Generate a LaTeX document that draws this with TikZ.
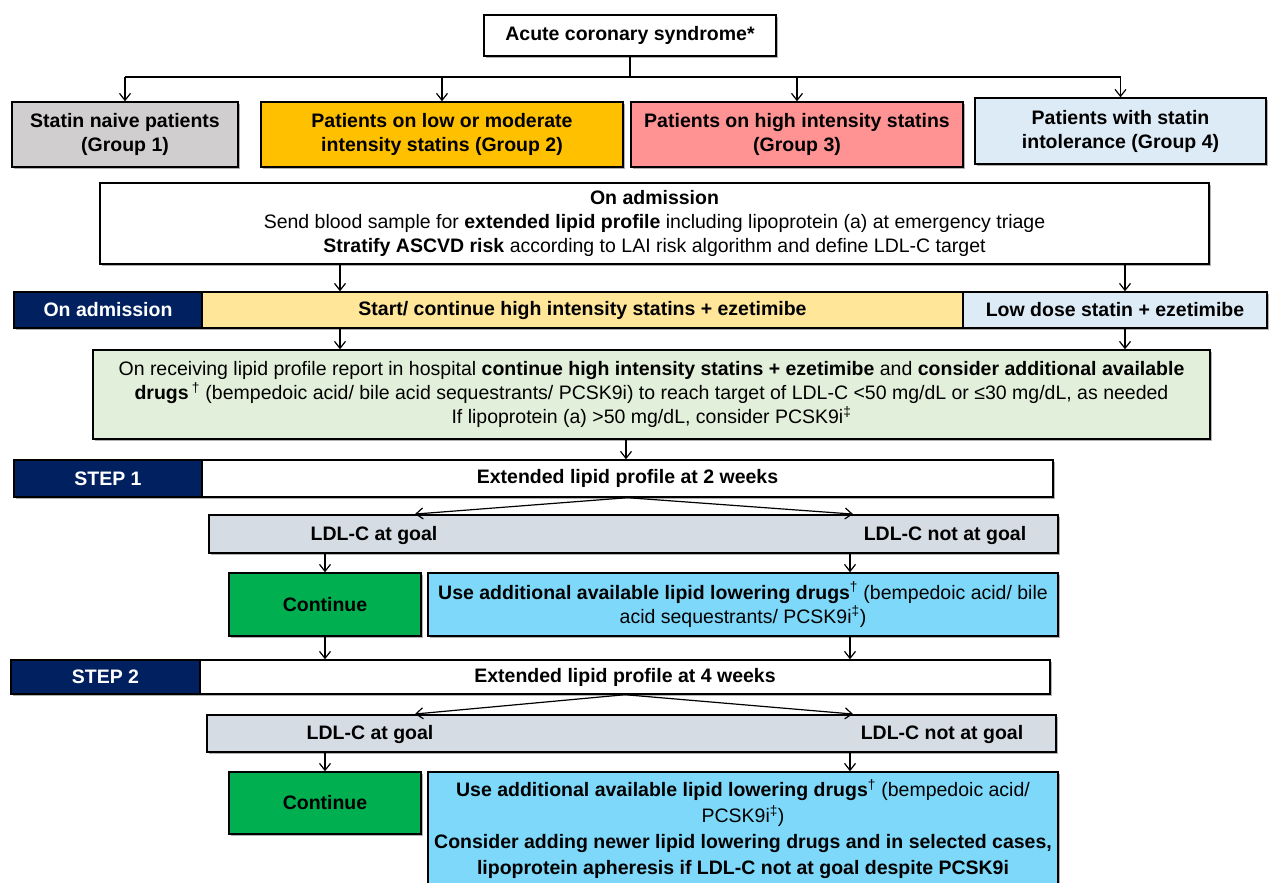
\documentclass[tikz,border=0pt]{standalone}
\usepackage{fontspec}
\setmainfont{Liberation Sans}
\usetikzlibrary{arrows.meta,shadows,calc}
\definecolor{gA}{HTML}{D0CECE}
\definecolor{gB}{HTML}{FFC000}
\definecolor{gC}{HTML}{FF9393}
\definecolor{gD}{HTML}{DDEBF7}
\definecolor{navy}{HTML}{002060}
\definecolor{yel}{HTML}{FFE699}
\definecolor{lgreen}{HTML}{E2EFDA}
\definecolor{lgrey}{HTML}{D6DCE4}
\definecolor{dgreen}{HTML}{00B050}
\definecolor{sky}{HTML}{7DD8FA}
\newcommand{\fs}{\fontsize{19.5}{24}\selectfont}
\begin{document}
\begin{tikzpicture}[x=1pt,y=-1pt,
  box/.style={draw=black, line width=1.4pt, align=center, inner sep=0pt,
    font=\fs,
    drop shadow={shadow xshift=2pt, shadow yshift=-2pt, opacity=.3, fill=black}},
  boldbox/.style={box, font=\fs\bfseries},
  navybox/.style={box, fill=navy, text=white, font=\fs\bfseries},
  lbl/.style={inner sep=0pt, font=\fs\bfseries},
  arr/.style={-{Straight Barb[length=7pt,width=11pt]}, line width=1.2pt},
  ln/.style={line width=1.2pt}]
\useasboundingbox (0,0) rectangle (1269,883);
% coordinates for connector columns
\coordinate (bus) at (626,77);
\coordinate (colL) at (340,0);
\coordinate (colR) at (1125,0);
\coordinate (colM) at (626,0);
\coordinate (colA) at (412,0);
\coordinate (colB) at (856,0);
\coordinate (colC) at (325,0);
\coordinate (colN) at (850,0);
% top
\node[boldbox, fill=white, minimum width=292pt, minimum height=41pt] (acs) at (630,35.5) {Acute coronary syndrome*};
\node[boldbox, fill=gA, minimum width=226pt, minimum height=65pt] (g1) at (125,134.5) {Statin naive patients\\(Group 1)};
\node[boldbox, fill=gB, minimum width=362pt, minimum height=65pt] (g2) at (442,134.5) {Patients on low or moderate\\intensity statins (Group 2)};
\node[boldbox, fill=gC, minimum width=332pt, minimum height=65pt] (g3) at (797,134.5) {Patients on high intensity statins\\(Group 3)};
\node[boldbox, fill=gD, minimum width=291pt, minimum height=66pt] (g4) at (1120.5,131) {Patients with statin\\intolerance (Group 4)};
% admission
\node[box, fill=white, minimum width=1109pt, minimum height=81pt] (adm) at (654.5,223.5) {\textbf{On admission}\\Send blood sample for \textbf{extended lipid profile} including lipoprotein (a) at emergency triage\\\textbf{Stratify ASCVD risk} according to LAI risk algorithm and define LDL-C target};
% row
\node[navybox, minimum width=188pt, minimum height=36pt] (nav0) at (108,310) {On admission};
\node[boldbox, fill=yel, minimum width=761pt, minimum height=36pt] (yel) at (582.5,310) {Start/ continue high intensity statins + ezetimibe};
\node[boldbox, fill=gD, minimum width=304pt, minimum height=36pt] (lb) at (1115,310) {Low dose statin + ezetimibe};
% green
\node[box, fill=lgreen, minimum width=1117pt, minimum height=89pt] (grn) at (651.5,394.5) {On receiving lipid profile report in hospital \textbf{continue high intensity statins + ezetimibe} and \textbf{consider additional available}\\\textbf{drugs}\,\textsuperscript{†} (bempedoic acid/ bile acid sequestrants/ PCSK9i) to reach target of LDL-C <50 mg/dL or ≤30 mg/dL, as needed\\If lipoprotein (a) >50 mg/dL, consider PCSK9i\textsuperscript{‡}};
% step 1
\node[navybox, minimum width=188pt, minimum height=37pt] (s1n) at (108,478.5) {STEP 1};
\node[boldbox, fill=white, minimum width=851pt, minimum height=37pt] (s1w) at (627.5,478.5) {Extended lipid profile at 2 weeks};
\node[box, fill=lgrey, minimum width=849pt, minimum height=38pt] (gb1) at (633.5,534) {};
\node[lbl] (g1a) at (374,535) {LDL-C at goal};
\node[lbl] (g1b) at (945,535) {LDL-C not at goal};
\node[boldbox, fill=dgreen, minimum width=192pt, minimum height=63pt] (c1) at (325,604.5) {Continue};
\node[box, fill=sky, minimum width=630pt, minimum height=63pt] (u1) at (743,604.5) {\textbf{Use additional available lipid lowering drugs}\textsuperscript{†} (bempedoic acid/ bile\\acid sequestrants/ PCSK9i\textsuperscript{‡})};
% step 2
\node[navybox, minimum width=189pt, minimum height=34pt] (s2n) at (105.5,677) {STEP 2};
\node[boldbox, fill=white, minimum width=850pt, minimum height=34pt] (s2w) at (625,677) {Extended lipid profile at 4 weeks};
\node[box, fill=lgrey, minimum width=849pt, minimum height=37pt] (gb2) at (631.5,733.5) {};
\node[lbl] (g2a) at (370,734) {LDL-C at goal};
\node[lbl] (g2b) at (942,734) {LDL-C not at goal};
\node[boldbox, fill=dgreen, minimum width=192pt, minimum height=62pt] (c2) at (325,803) {Continue};
\node[box, fill=sky, minimum width=630pt, minimum height=114pt, font=\fontsize{19.5}{26}\selectfont] (u2) at (743,829) {\textbf{Use additional available lipid lowering drugs}\textsuperscript{†} (bempedoic acid/\\PCSK9i\textsuperscript{‡})\\\textbf{Consider adding newer lipid lowering drugs and in selected cases,}\\\textbf{lipoprotein apheresis if LDL-C not at goal despite PCSK9i}};
% connectors
\draw[ln] (acs.south) -- (acs.south |- bus);
\draw[ln] (g1.north |- bus) -- (g4.north |- bus);
\draw[arr] (g1.north |- bus) -- (g1.north);
\draw[arr] (g2.north |- bus) -- (g2.north);
\draw[arr] (g3.north |- bus) -- (g3.north);
\draw[arr] (g4.north |- bus) -- (g4.north);
\draw[arr] (adm.south -| colL) -- (yel.north -| colL);
\draw[arr] (adm.south -| colR) -- (lb.north -| colR);
\draw[arr] (yel.south -| colL) -- (grn.north -| colL);
\draw[arr] (lb.south -| colR) -- (grn.north -| colR);
\draw[arr] (grn.south -| colM) -- (s1w.north -| colM);
\draw[arr, shorten >=3pt] (s1w.south) -- (gb1.north -| colA);
\draw[arr, shorten >=3pt] (s1w.south) -- (gb1.north -| colB);
\draw[arr] (gb1.south -| colC) -- (c1.north);
\draw[arr] (gb1.south -| colN) -- (u1.north -| colN);
\draw[arr] (c1.south) -- (s2w.north -| colC);
\draw[arr] (u1.south -| colN) -- (s2w.north -| colN);
\draw[arr, shorten >=3pt] (s2w.south) -- (gb2.north -| colA);
\draw[arr, shorten >=3pt] (s2w.south) -- (gb2.north -| colB);
\draw[arr] (gb2.south -| colC) -- (c2.north);
\draw[arr] (gb2.south -| colN) -- (u2.north -| colN);
\end{tikzpicture}
\end{document}
